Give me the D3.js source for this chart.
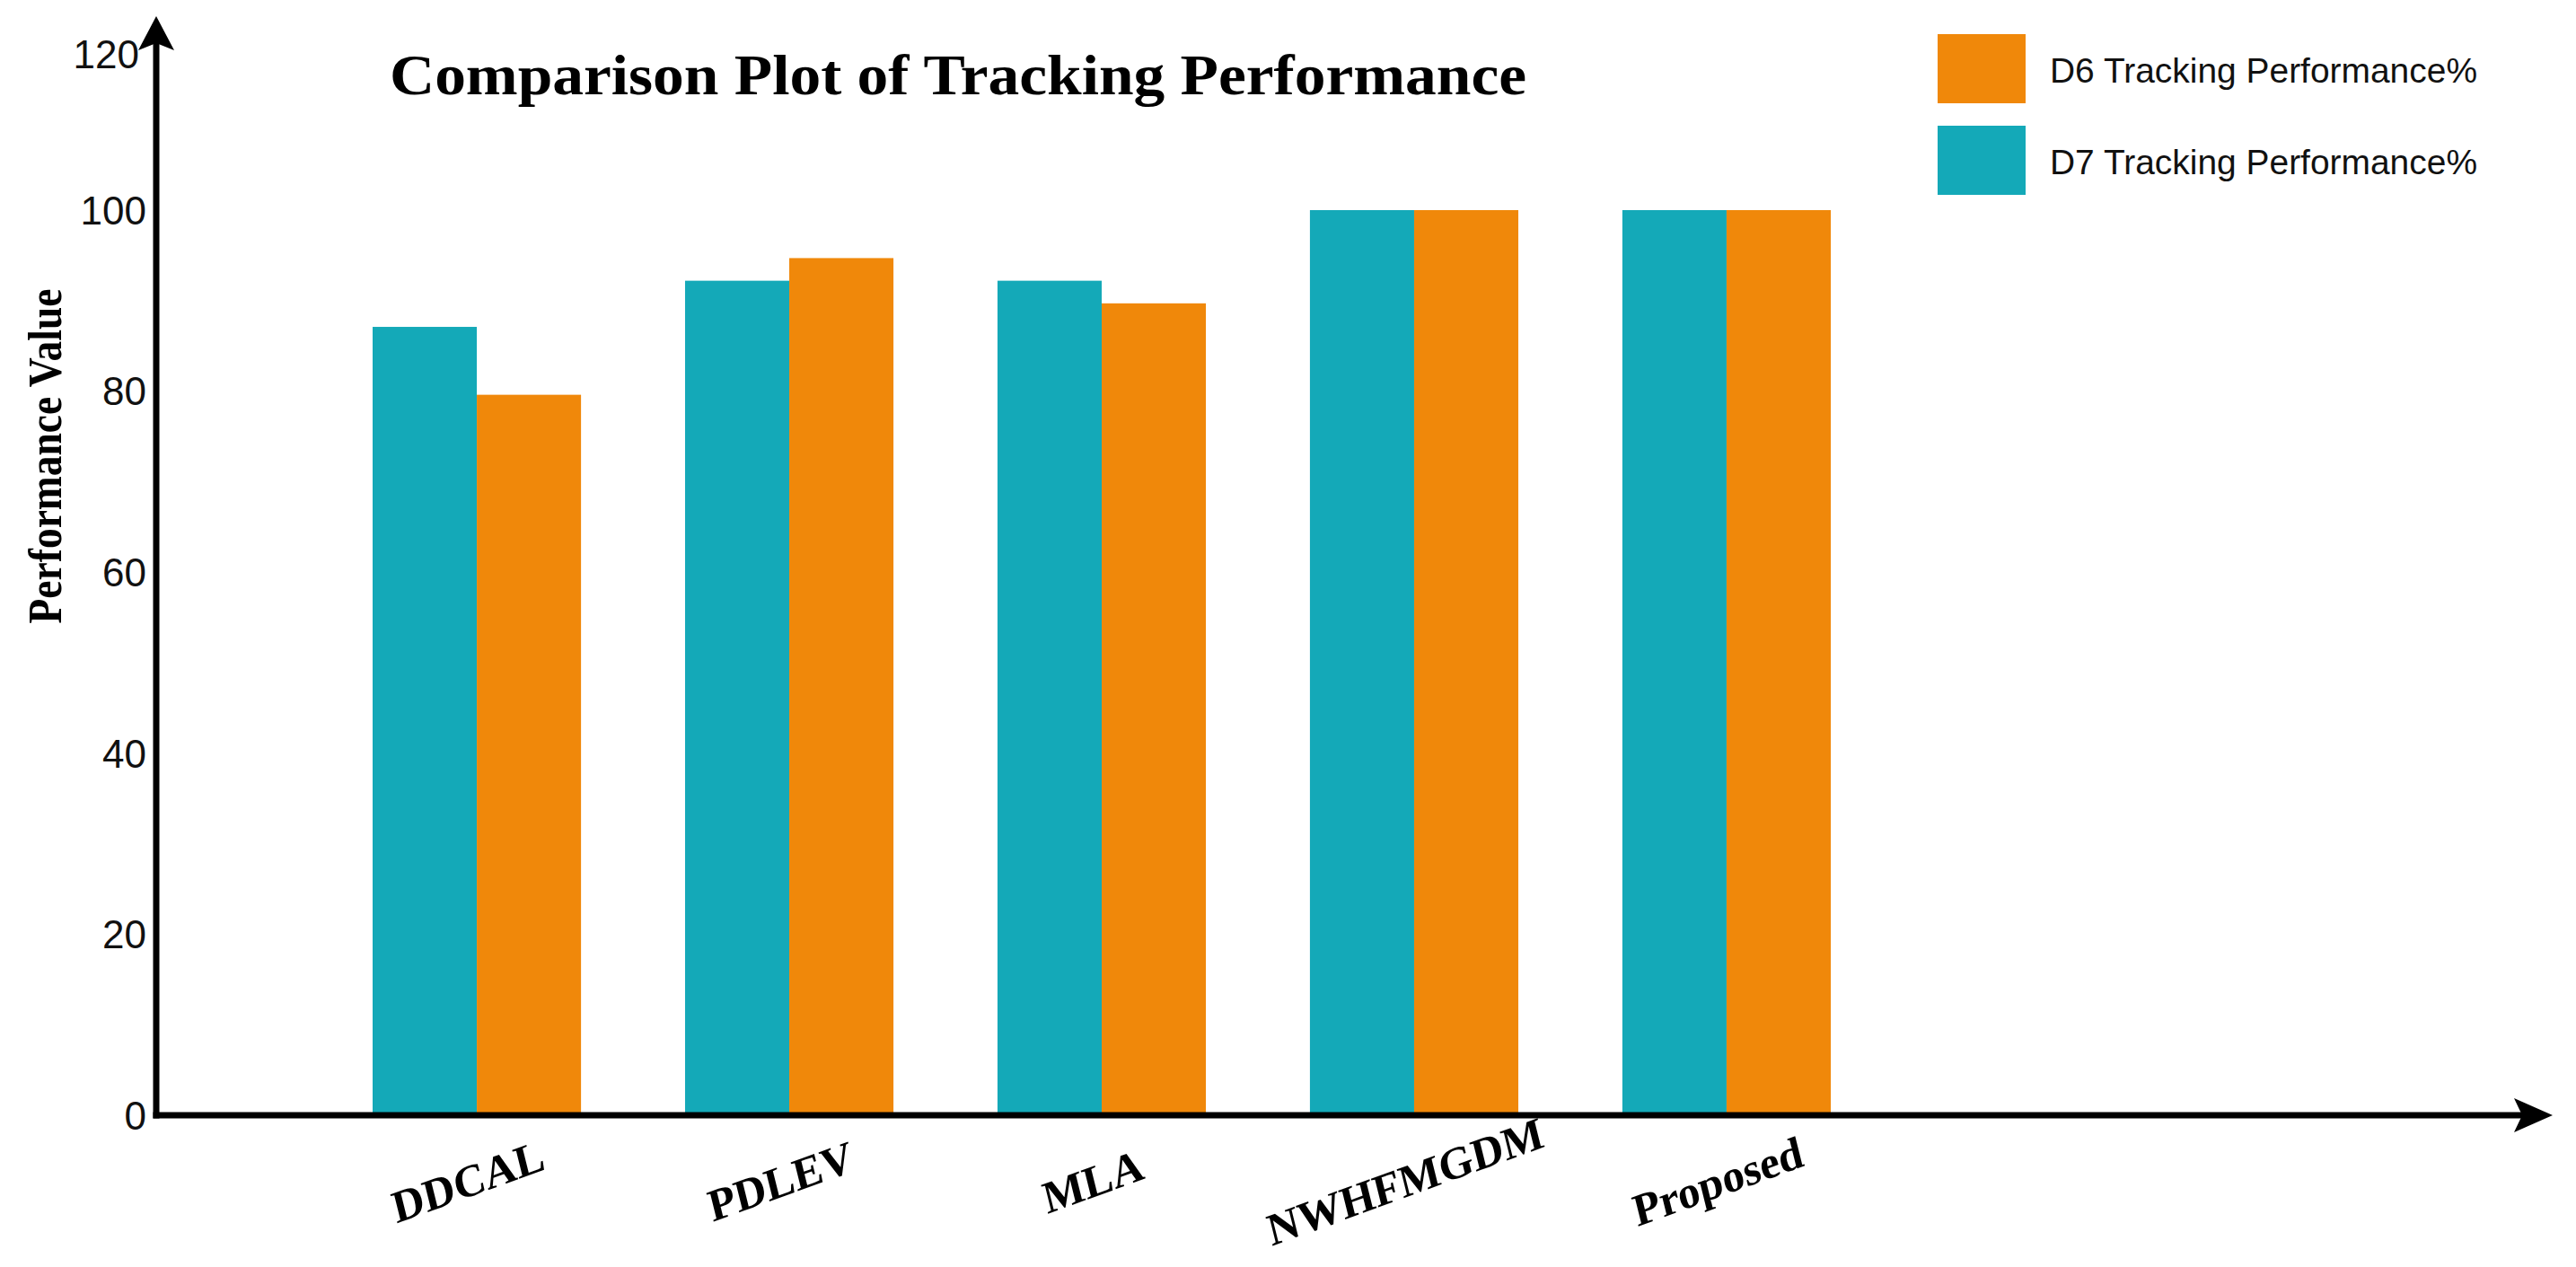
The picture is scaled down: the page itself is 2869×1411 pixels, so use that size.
<!DOCTYPE html>
<html>
<head>
<meta charset="utf-8">
<script src="https://cdn.jsdelivr.net/npm/d3@7"></script>
<style>
  html, body { margin: 0; padding: 0; background: #ffffff; }
  svg { display: block; }
</style>
</head>
<body>
<script>
// ---- data ----
const categories = ["DDCAL", "PDLEV", "MLA", "NWHFMGDM", "Proposed"];
const seriesNames = ["D7 Tracking Performance%", "D6 Tracking Performance%"];
const d7Values = [87.1, 92.2, 92.2, 100, 100];
const d6Values = [79.6, 94.7, 89.7, 100, 100];
const yTicks = [0, 20, 40, 60, 80, 100, 120];
const legendOrder = ["D6 Tracking Performance%", "D7 Tracking Performance%"];
const titleText = "Comparison Plot of Tracking Performance";
const yTitle = "Performance Value";

const W = 2869, H = 1411;
const colors = { "D7 Tracking Performance%": "#14a9b8", "D6 Tracking Performance%": "#f0880a" };

const svg = d3.select("body").append("svg").attr("width", W).attr("height", H);

const y = d3.scaleLinear().domain([0, 120]).range([1242, 32.4]);
const x = d3.scaleBand().domain(categories).range([357, 2097]).paddingInner(0.333).paddingOuter(0.1667);
const xs = d3.scaleBand().domain(seriesNames).range([0, x.bandwidth()]);

const rows = categories.map((c, i) => ({ cat: c, vals: [
  { s: seriesNames[0], v: d7Values[i] },
  { s: seriesNames[1], v: d6Values[i] }
]}));

// bars
const g = svg.append("g");
g.selectAll("g.grp").data(rows).join("g")
  .attr("transform", d => `translate(${x(d.cat)},0)`)
  .selectAll("rect").data(d => d.vals).join("rect")
  .attr("x", d => xs(d.s))
  .attr("width", xs.bandwidth())
  .attr("y", d => y(d.v))
  .attr("height", d => y(0) - y(d.v))
  .attr("fill", d => colors[d.s]);

// axes lines
const axX = 174;
svg.append("line").attr("x1", axX).attr("x2", axX).attr("y1", y(0) + 3.5).attr("y2", 40)
  .attr("stroke", "#000").attr("stroke-width", 7);
svg.append("path").attr("d", `M${axX},18 L${axX + 20},56 L${axX},48 L${axX - 20},56 Z`).attr("fill", "#000");

svg.append("line").attr("x1", axX - 3.5).attr("x2", 2820).attr("y1", y(0)).attr("y2", y(0))
  .attr("stroke", "#000").attr("stroke-width", 7);
svg.append("path").attr("d", `M2843,${y(0)} L2800,${y(0) - 19} L2809,${y(0)} L2800,${y(0) + 19} Z`).attr("fill", "#000");

// y tick labels
svg.append("g").selectAll("text").data(yTicks).join("text")
  .attr("x", d => d === 120 ? 155 : 163)
  .attr("y", d => Math.max(y(d), 60))
  .attr("dy", "0.36em")
  .attr("text-anchor", "end")
  .attr("font-family", "'Liberation Sans', Arial, sans-serif")
  .attr("font-size", 44)
  .attr("fill", "#111")
  .text(d => d);

// x category labels
svg.append("g").selectAll("text").data(categories).join("text")
  .attr("transform", d => `translate(${x(d) + x.bandwidth() / 2 - 10},1315) rotate(-20) skewX(-6)`)
  .attr("text-anchor", "middle")
  .attr("dy", "0.35em")
  .attr("font-family", "'Liberation Serif', 'Times New Roman', serif")
  .attr("font-weight", "bold")
  .attr("font-size", 50)
  .attr("fill", "#000")
  .text(d => d);

// title
svg.append("text")
  .attr("x", 434).attr("y", 105)
  .attr("textLength", 1266).attr("lengthAdjust", "spacingAndGlyphs")
  .attr("font-family", "'Liberation Serif', 'Times New Roman', serif")
  .attr("font-weight", "bold")
  .attr("font-size", 64)
  .attr("fill", "#000")
  .text(titleText);

// y title
svg.append("text")
  .attr("transform", "translate(68,508) rotate(-90)")
  .attr("text-anchor", "middle")
  .attr("textLength", 373).attr("lengthAdjust", "spacingAndGlyphs")
  .attr("font-family", "'Liberation Serif', 'Times New Roman', serif")
  .attr("font-weight", "bold")
  .attr("font-size", 52)
  .attr("fill", "#000")
  .text(yTitle);

// legend
const lg = svg.append("g").selectAll("g").data(legendOrder).join("g")
  .attr("transform", (d, i) => `translate(2158,${38 + i * 102})`);
lg.append("rect").attr("width", 98).attr("height", 77).attr("fill", d => colors[d]);
lg.append("text").attr("x", 125).attr("y", 54)
  .attr("textLength", 476).attr("lengthAdjust", "spacingAndGlyphs")
  .attr("font-family", "'Liberation Sans', Arial, sans-serif")
  .attr("font-size", 39)
  .attr("fill", "#111")
  .text(d => d);
</script>
</body>
</html>
